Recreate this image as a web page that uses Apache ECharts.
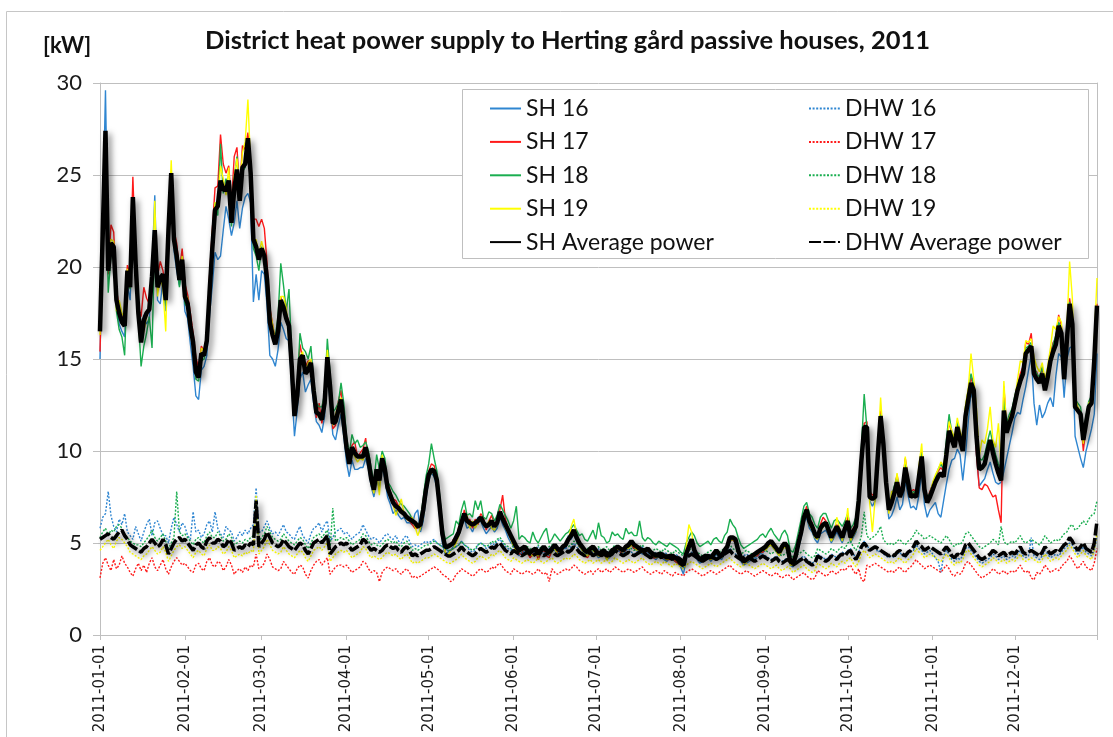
<!DOCTYPE html>
<html>
<head>
<meta charset="utf-8">
<script src="https://cdn.jsdelivr.net/npm/echarts@6/dist/echarts.min.js"></script>
<style>
  html, body { margin: 0; padding: 0; background: #fff; }
  #chart { width: 1113px; height: 737px; }
</style>
</head>
<body>
<div id="chart"></div>
<script>
// Daily district heat power [kW], 2011-01-01 .. 2011-12-31 (one row per month)
const YEAR = 2011;
const DAY_COUNT = 365;
const Y_MAX = 30;
const Y_STEP = 5;

const SH_AVG = [
  16.5,21.8,27.4,19.8,21.3,21.1,18.2,17.5,17.0,16.8,19.8,18.9,23.8,20.2,17.5,15.9,17.1,17.5,17.7,19.5,22.0,18.9,19.4,19.6,18.2,22.0,25.1,21.5,20.6,19.3,20.4,
  18.4,18.0,16.8,15.9,14.3,14.0,15.3,15.2,16.0,18.6,21.0,23.1,23.3,24.7,24.2,24.2,24.7,22.4,24.2,25.3,23.6,25.4,25.6,27.0,25.1,21.5,21.1,20.4,
  21.0,20.6,19.3,17.0,16.3,15.8,16.5,18.2,17.8,17.2,16.8,14.6,11.9,13.0,15.0,15.2,14.2,14.4,14.8,13.3,12.1,12.0,11.7,12.6,15.1,13.5,11.5,11.6,12.2,12.8,11.5,
  10.2,9.3,10.2,9.9,9.7,9.7,9.7,10.2,9.5,8.5,7.9,9.0,8.4,9.6,9.0,8.0,7.6,7.2,7.0,6.9,6.7,6.6,6.4,6.3,6.2,6.1,5.9,6.0,6.8,7.9,
  8.7,9.0,8.9,8.4,7.0,5.5,4.8,4.8,4.9,5.0,5.3,5.6,6.1,6.6,6.2,6.1,6.0,6.1,6.2,6.4,6.1,5.9,6.0,6.2,5.9,6.1,6.7,6.3,6.0,5.7,5.4,
  5.1,4.8,4.6,4.7,4.8,4.6,4.5,4.6,4.7,4.4,4.6,4.8,4.6,4.5,4.7,4.9,4.7,4.6,4.8,4.9,5.2,5.4,5.7,5.3,5.0,4.8,4.6,4.5,4.7,4.8,
  4.6,4.4,4.5,4.6,4.3,4.4,4.6,4.7,4.8,4.7,4.6,4.8,4.9,5.1,4.9,4.8,4.7,4.6,4.6,4.7,4.5,4.4,4.3,4.4,4.4,4.3,4.2,4.3,4.3,4.2,4.1,
  3.9,3.8,4.4,4.8,5.2,4.6,4.3,4.1,4.2,4.3,4.3,4.2,4.4,4.6,4.4,4.3,4.6,4.8,5.3,5.3,5.2,4.6,4.2,4.0,4.1,4.2,4.3,4.4,4.5,4.6,4.7,
  4.8,5.0,5.1,4.9,4.7,4.5,4.8,5.0,4.8,4.0,3.9,4.3,5.0,5.6,6.4,6.8,6.2,5.9,5.5,5.3,5.8,6.0,6.1,5.7,5.3,5.6,5.9,5.6,5.3,5.8,
  6.2,5.3,5.6,5.9,7.3,9.5,11.3,11.3,7.5,7.4,7.5,9.8,11.9,10.4,8.3,6.8,7.2,7.7,8.3,7.5,7.9,9.1,8.3,7.5,7.6,7.5,8.6,9.7,7.9,7.2,7.5,
  7.9,8.3,8.6,8.8,8.6,9.8,11.1,10.6,10.2,11.3,10.6,10.0,11.9,12.8,13.7,13.3,10.8,9.0,9.1,9.3,10.0,10.6,9.9,9.3,8.8,8.4,12.2,11.0,11.5,11.9,
  12.6,13.3,13.8,14.2,15.3,15.5,15.7,14.2,13.9,13.7,14.2,13.3,14.0,14.9,15.4,15.8,16.8,16.4,13.9,16.0,18.0,16.9,12.4,12.2,12.0,10.6,11.5,12.4,12.6,14.9,17.9
];

const SH16 = [
  15.0,22.5,29.6,20.4,21.0,20.6,17.8,16.9,16.5,16.2,19.0,18.2,22.6,20.0,17.1,16.3,17.4,16.9,17.2,19.9,23.9,18.2,18.0,19.3,17.6,21.3,24.6,20.9,19.8,19.0,19.9,
  17.6,17.2,15.8,14.6,13.0,12.8,14.4,14.6,15.2,17.4,19.0,20.8,20.4,20.6,22.0,23.3,22.6,21.7,22.4,23.6,22.1,23.2,23.8,24.0,23.5,18.1,19.6,18.2,
  19.8,19.6,17.9,15.2,15.0,14.6,15.5,17.0,16.6,16.1,16.0,13.5,10.8,12.2,13.9,14.3,13.2,13.6,13.9,12.6,11.6,11.4,11.0,11.9,14.3,12.7,10.9,10.6,11.4,12.0,10.8,
  9.4,8.6,9.5,9.0,9.0,9.1,9.1,9.6,9.0,8.1,7.5,8.4,8.0,9.1,8.5,7.5,7.1,6.6,6.8,6.5,6.3,6.4,6.1,6.1,6.0,6.6,6.8,5.6,6.2,7.4,
  8.4,8.8,8.6,8.0,6.4,5.0,4.4,4.5,4.6,4.8,5.1,5.4,5.9,6.3,5.8,5.9,5.6,6.0,6.4,6.2,5.8,5.5,5.7,5.9,5.6,5.8,6.4,6.0,5.7,5.3,5.0,
  4.9,4.6,4.3,4.5,4.6,4.4,4.3,4.5,4.6,4.2,4.4,4.6,4.5,4.3,4.5,4.8,4.6,4.4,4.7,4.7,5.4,5.2,5.5,5.1,4.8,4.6,4.5,4.3,4.6,4.6,
  4.4,4.2,4.3,4.5,4.1,4.2,4.5,4.5,4.6,4.6,4.4,4.6,4.8,4.9,4.7,4.6,4.5,4.4,4.4,4.5,4.3,4.2,4.1,4.3,4.2,4.1,4.0,4.2,4.1,4.0,3.9,
  3.7,3.3,4.1,4.6,5.0,4.4,4.1,3.9,4.0,4.1,4.2,4.0,4.2,4.4,4.2,4.1,4.4,4.6,5.1,5.2,5.0,4.4,4.0,3.8,3.9,4.0,4.1,4.2,4.3,4.4,4.5,
  4.6,4.8,4.9,4.7,4.5,4.3,4.6,4.8,4.6,3.8,3.7,4.1,4.7,5.3,6.1,6.4,5.8,5.6,5.2,5.0,5.5,5.6,5.7,5.4,5.0,5.3,5.6,5.3,5.0,5.5,
  5.9,5.0,5.3,5.6,6.9,9.0,10.8,10.9,7.3,7.0,7.3,9.4,11.5,10.0,7.9,6.3,6.5,6.9,7.5,6.8,7.1,8.4,7.6,6.9,7.0,6.8,7.6,8.8,7.1,6.4,6.8,
  7.0,7.2,6.6,6.4,7.3,8.2,9.0,9.5,9.6,10.1,9.8,8.4,9.8,11.6,13.2,12.6,9.8,8.1,8.3,8.5,9.0,9.4,8.8,8.3,8.2,8.3,8.9,9.6,10.3,11.0,
  11.8,12.1,12.0,12.8,13.5,14.4,15.2,12.6,11.4,12.5,11.8,12.1,12.6,12.9,12.4,14.1,15.3,15.1,12.9,15.0,15.6,15.7,10.8,10.2,9.6,9.1,10.0,10.6,11.2,12.0,15.3
];

const SH17 = [
  15.4,21.0,26.8,19.6,22.3,21.9,18.8,17.8,17.3,17.2,20.1,19.5,24.9,20.6,17.9,17.3,18.9,18.3,18.0,19.2,21.6,19.5,20.3,19.8,18.6,22.4,24.9,22.0,21.3,19.8,21.0,
  19.1,18.5,17.5,16.4,15.1,14.5,15.7,15.4,16.4,19.5,22.0,24.3,24.4,27.2,25.6,25.1,25.5,23.4,26.0,26.5,24.1,26.6,26.4,27.3,25.7,22.6,22.6,22.2,
  22.6,22.1,20.2,17.8,16.9,16.0,16.7,18.4,17.6,17.5,17.0,14.4,12.2,13.6,15.8,15.0,14.6,14.9,14.9,13.1,11.8,12.6,11.5,12.4,15.0,13.2,11.2,11.4,12.7,13.3,11.4,
  10.4,9.6,10.3,10.5,9.7,9.9,10.1,10.7,9.3,8.6,8.1,8.9,8.5,9.4,9.1,8.3,7.8,7.4,7.3,7.0,6.7,6.5,6.3,6.2,6.0,5.8,5.8,6.1,7.3,8.3,
  8.9,9.3,9.2,8.6,7.2,5.6,4.6,4.9,4.8,5.2,5.1,5.9,6.0,6.8,6.1,6.3,5.8,6.3,6.0,6.6,6.4,5.7,6.2,6.5,6.0,6.2,6.8,7.6,6.3,5.8,5.3,
  5.0,4.7,4.4,4.4,4.7,4.5,4.2,4.4,4.6,4.1,4.5,4.6,4.3,4.2,4.6,4.7,4.5,4.4,4.9,4.8,5.1,5.5,5.6,5.2,4.8,4.7,4.3,4.2,4.5,4.6,
  4.5,4.3,4.4,4.4,4.2,4.3,4.4,4.6,4.6,4.5,4.5,4.6,4.8,4.9,4.7,4.7,4.5,4.5,4.4,4.6,4.4,4.2,4.2,4.3,4.2,4.2,4.1,4.1,4.2,4.0,3.9,
  3.8,3.7,4.3,4.7,5.0,4.5,4.2,4.0,4.1,4.2,4.2,4.1,4.3,4.5,4.3,4.2,4.5,4.7,5.1,5.2,5.0,4.5,4.1,3.9,4.0,4.1,4.2,4.3,4.3,4.5,4.5,
  4.7,4.9,5.0,4.8,4.6,4.4,4.7,4.9,4.7,3.9,3.8,4.2,4.9,5.7,6.5,7.0,6.3,6.1,5.6,5.3,6.0,6.4,6.2,5.8,5.4,5.7,6.0,5.6,5.4,5.9,
  6.4,5.5,5.8,6.1,7.5,9.8,11.5,11.6,7.8,7.6,7.7,10.2,12.2,10.6,8.6,7.0,7.4,8.0,8.7,7.9,8.2,9.6,8.6,7.8,7.9,7.8,8.9,10.0,8.2,7.4,7.8,
  8.2,8.5,8.9,9.1,8.9,10.3,11.6,10.9,10.6,11.6,10.8,10.4,12.3,13.2,14.0,13.4,9.8,8.0,7.9,8.2,8.1,7.8,7.5,7.6,6.8,6.1,13.5,11.3,11.8,12.2,
  12.9,13.6,14.2,14.6,15.9,15.8,16.4,14.4,14.3,13.8,14.5,13.6,14.3,15.3,15.9,16.1,17.4,16.8,14.2,16.3,18.3,17.3,12.5,12.2,11.9,10.0,11.3,12.5,12.8,15.2,18.0
];

const SH18 = [
  16.8,21.5,26.5,18.6,20.6,20.8,17.6,16.6,16.2,15.2,19.6,18.8,23.5,19.7,17.2,14.6,15.7,16.4,17.3,15.6,21.6,19.0,19.2,19.5,17.9,21.8,24.6,21.2,20.2,18.9,20.2,
  18.0,17.8,16.4,15.6,13.9,13.8,14.9,15.0,15.8,18.9,21.4,23.5,22.8,26.7,24.0,24.8,24.4,22.2,24.8,26.0,23.8,25.2,25.4,26.5,24.6,21.0,20.6,19.8,
  21.1,20.5,19.4,17.4,16.5,16.2,17.3,20.2,19.0,17.6,18.8,15.2,12.4,13.4,16.4,15.6,15.4,15.0,15.7,13.8,12.6,12.4,12.4,13.1,16.1,14.2,12.1,12.3,12.6,13.7,12.6,
  10.8,9.8,10.9,10.4,10.6,10.2,10.3,10.5,10.0,9.1,8.3,9.8,9.0,10.0,9.6,8.3,8.1,7.8,7.6,7.3,7.1,7.0,6.8,6.6,6.3,6.1,5.8,6.3,7.4,8.6,
  9.3,10.4,9.6,8.9,7.6,6.0,5.2,5.3,5.4,5.5,6.2,6.0,6.8,7.3,6.5,6.6,6.4,7.3,6.8,7.3,6.4,6.3,6.7,6.6,6.2,6.5,7.1,6.8,6.5,6.2,5.8,
  6.2,7.0,5.2,5.4,5.3,5.1,5.0,5.6,5.2,5.0,5.3,5.6,5.8,5.0,5.2,5.5,5.3,5.1,5.3,5.5,5.6,5.8,6.0,5.7,5.4,5.5,5.2,5.1,5.4,5.7,
  5.2,6.1,5.4,5.3,5.0,5.1,5.6,5.4,5.5,5.3,5.2,5.8,5.5,5.6,5.4,5.4,6.2,5.3,5.1,5.3,5.2,5.0,4.9,5.1,5.0,4.9,4.8,5.0,4.9,4.8,4.7,
  4.5,4.4,5.0,5.3,5.6,5.4,5.0,4.8,4.9,5.0,5.1,4.9,5.2,5.3,5.1,5.0,5.4,5.6,6.3,6.0,5.8,5.3,4.9,4.7,4.8,4.9,5.0,5.1,5.2,5.4,5.5,
  5.3,5.6,5.8,5.5,5.3,5.1,5.5,5.7,5.4,4.6,4.5,4.9,5.6,6.3,7.0,7.2,6.6,6.4,6.0,5.8,6.4,6.6,6.6,6.2,5.8,6.2,6.3,6.1,5.9,6.2,
  6.6,5.8,6.0,6.4,7.8,10.2,13.1,11.2,7.6,7.5,7.6,10.0,12.0,10.5,8.5,7.2,7.5,8.1,8.6,7.7,8.1,9.3,8.5,7.7,7.8,7.7,8.8,9.9,8.1,7.5,7.7,
  8.2,8.6,9.0,9.3,9.0,10.6,12.0,11.0,10.5,11.6,10.9,10.3,12.4,13.3,14.2,13.6,11.5,9.6,9.5,9.8,10.5,11.1,10.4,9.8,9.3,8.9,12.8,11.5,12.0,12.3,
  13.0,13.6,14.0,14.5,15.6,15.7,15.9,14.6,14.2,14.0,14.6,13.6,14.3,15.1,15.8,16.3,17.0,16.7,14.1,16.2,18.1,17.0,12.8,12.6,12.4,11.1,11.9,12.7,13.0,15.1,17.8
];

const SH19 = [
  16.3,22.3,27.2,20.2,21.5,21.4,17.6,18.2,17.5,17.2,19.9,18.9,23.5,20.0,17.3,16.0,16.5,17.3,17.9,19.0,23.6,18.4,19.5,18.8,16.5,22.1,25.8,21.8,20.8,19.6,20.6,
  18.6,18.3,17.0,16.2,14.6,14.2,15.6,15.4,16.3,19.0,21.8,23.5,23.5,25.5,24.8,23.9,25.4,22.8,24.9,25.9,24.3,26.2,26.8,29.1,25.5,21.4,21.5,20.6,
  21.4,20.8,19.6,17.6,16.9,16.0,16.7,18.4,18.4,17.8,16.0,14.9,12.1,13.0,15.1,15.4,14.3,14.8,15.0,13.6,12.2,11.8,12.0,13.0,15.5,13.9,11.4,12.0,12.5,12.9,11.0,
  10.1,9.3,10.0,9.7,9.4,9.6,9.5,10.0,9.6,8.2,7.7,9.0,7.6,9.8,9.0,7.9,7.5,7.1,6.5,6.9,7.4,6.6,6.3,6.2,6.4,5.9,5.4,5.8,6.4,7.6,
  8.6,8.8,9.0,8.5,7.4,5.4,4.5,4.3,4.6,4.7,5.0,5.4,6.0,6.4,6.5,5.8,6.2,5.8,6.1,6.3,6.0,5.9,6.2,5.8,5.7,6.0,6.5,6.4,5.8,5.6,5.2,
  4.8,4.6,4.5,4.6,4.7,4.4,4.4,4.3,4.4,4.3,4.6,4.7,4.5,4.4,4.5,4.7,4.4,4.5,4.7,4.9,5.1,5.9,6.3,5.4,4.9,4.6,4.4,4.3,4.5,4.6,
  4.4,4.3,4.3,4.5,4.1,4.3,4.5,4.6,4.7,4.6,4.5,4.7,4.7,4.9,4.8,4.6,4.6,4.5,4.5,4.6,4.4,4.3,4.2,4.3,4.3,4.2,4.1,4.2,4.2,4.1,4.0,
  3.8,3.7,4.8,6.0,5.6,4.5,4.2,4.0,4.1,4.2,4.2,4.1,4.3,4.5,4.3,4.2,4.5,4.7,5.1,5.2,5.1,4.5,4.1,3.9,4.0,4.1,4.2,4.3,4.4,4.5,4.6,
  4.6,4.8,4.9,4.7,4.5,4.3,4.6,4.8,4.6,3.8,3.8,4.1,4.8,5.4,6.2,6.7,6.0,5.7,5.3,5.2,5.6,5.9,6.0,5.5,5.1,5.4,6.4,5.8,5.1,5.7,
  6.9,5.1,5.4,5.7,7.0,9.4,11.0,11.1,7.2,5.6,7.4,10.2,12.9,10.6,8.1,6.6,7.8,7.8,8.8,7.6,8.0,9.7,8.4,7.6,7.7,7.6,9.2,10.4,8.1,7.3,7.6,
  8.3,8.7,9.0,9.4,9.2,10.2,11.6,11.1,10.7,11.8,11.1,10.6,12.5,13.4,15.3,13.9,12.3,9.7,10.6,10.4,11.2,12.4,10.6,10.2,11.5,9.1,13.8,11.2,11.8,12.1,
  12.8,13.9,14.9,14.8,16.0,15.9,16.1,15.1,14.6,14.3,14.8,13.9,14.6,15.6,16.8,16.6,17.3,17.0,14.4,16.6,20.3,18.3,12.9,12.4,12.1,10.4,11.6,12.6,12.8,15.9,19.4
];

const DHW_AVG = [
  5.2,5.3,5.4,5.5,5.3,5.2,5.4,5.6,5.7,5.4,5.2,4.9,4.8,4.7,4.6,4.5,4.7,4.8,5.0,5.2,5.0,4.8,4.9,5.2,4.9,4.4,4.7,5.0,5.2,5.3,5.1,
  5.2,5.0,4.8,4.6,4.9,5.0,4.8,4.7,5.1,5.3,5.0,5.0,5.2,5.1,4.8,4.9,5.2,5.0,4.6,4.7,4.8,4.7,4.9,4.8,5.0,4.9,7.3,4.8,
  5.0,5.2,5.6,5.3,5.0,4.9,4.8,4.9,5.2,5.0,4.8,4.7,4.6,4.8,5.0,4.9,4.6,4.4,4.7,5.0,5.1,5.2,5.0,5.2,5.4,4.4,4.6,4.8,4.9,5.0,4.9,
  5.0,4.8,4.6,4.7,4.8,4.9,5.2,5.1,4.8,4.6,4.7,4.6,4.5,4.6,4.8,4.9,4.8,4.7,4.8,4.6,4.5,4.7,4.8,4.6,4.3,4.4,4.3,4.4,4.5,4.6,
  4.6,4.7,4.8,4.7,4.6,4.5,4.4,4.3,4.3,4.4,4.5,4.6,4.8,4.6,4.5,4.4,4.3,4.4,4.6,4.7,4.6,4.5,4.6,4.8,4.7,4.9,5.0,4.8,4.6,4.5,4.4,
  4.6,4.5,4.4,4.3,4.4,4.5,4.4,4.3,4.4,4.6,4.4,4.3,4.4,4.5,4.6,4.4,4.3,4.4,4.5,4.6,4.5,4.6,4.8,4.7,4.5,4.4,4.3,4.4,4.5,4.3,
  4.4,4.5,4.3,4.4,4.5,4.3,4.4,4.6,4.5,4.4,4.3,4.4,4.5,4.4,4.3,4.4,4.5,4.6,4.4,4.3,4.2,4.3,4.4,4.3,4.2,4.4,4.3,4.2,4.1,4.3,4.2,
  4.1,4.0,4.2,4.3,4.4,4.3,4.2,4.1,4.0,4.1,4.2,4.3,4.2,4.1,4.2,4.3,4.4,4.5,4.6,4.4,4.3,4.2,4.1,4.2,4.3,4.2,4.1,4.0,4.1,4.2,4.3,
  4.2,4.1,4.0,4.1,4.2,4.0,3.9,4.0,4.1,4.0,3.8,3.9,4.0,4.1,4.2,4.0,3.9,3.8,3.9,4.3,4.2,4.1,4.0,4.1,4.3,4.2,4.1,4.3,4.4,4.3,
  4.5,4.6,4.3,4.1,4.4,4.8,5.0,4.8,4.6,4.7,4.8,4.7,4.6,4.5,4.4,4.3,4.4,4.3,4.5,4.6,4.4,4.3,4.5,4.6,4.8,5.1,4.9,4.8,4.6,4.7,4.8,
  4.7,4.6,4.5,4.4,4.6,4.8,4.6,4.3,4.2,4.4,4.3,4.5,4.9,5.0,4.8,4.6,4.4,4.2,4.1,4.2,4.3,4.4,4.6,4.5,4.3,4.4,4.5,4.3,4.4,4.5,
  4.4,4.6,4.8,4.5,4.4,4.5,4.6,4.5,4.4,4.3,4.5,4.8,4.6,4.4,4.5,4.6,4.5,4.7,4.9,5.0,5.3,5.1,4.8,4.6,4.8,5.0,4.7,4.6,4.5,5.0,6.2
];

const DHW16 = [
  5.8,6.4,6.6,7.8,6.5,5.9,5.6,6.3,6.0,6.6,5.6,5.4,5.2,5.9,5.5,5.1,5.6,6.0,6.3,5.4,6.1,6.2,5.8,5.4,5.4,5.0,5.8,6.4,6.0,5.6,6.1,
  5.9,5.4,5.2,6.7,5.6,5.7,5.3,5.5,6.0,6.2,5.6,6.7,5.8,5.5,5.3,5.9,5.7,5.6,5.1,5.3,5.6,5.4,5.7,5.5,5.8,6.0,8.0,5.6,
  5.6,5.9,6.2,5.8,5.5,5.6,5.4,5.7,6.0,5.6,5.5,5.3,5.2,5.6,5.9,5.4,5.2,5.0,5.5,5.8,5.9,6.1,5.6,6.0,6.2,5.1,5.3,5.6,5.7,5.8,5.5,
  5.6,5.4,5.2,5.4,5.5,5.6,6.0,5.7,5.4,5.2,5.3,5.2,5.0,5.2,5.4,5.5,5.3,5.2,5.4,5.1,5.0,5.3,5.4,5.1,4.8,4.9,4.8,4.9,5.0,5.1,
  5.0,5.1,5.2,5.0,4.9,4.8,4.7,4.6,4.6,4.7,4.8,4.9,5.1,4.9,4.8,4.6,4.5,4.6,4.9,5.0,4.9,4.7,4.8,5.0,4.9,5.1,5.2,5.0,4.8,4.7,4.6,
  4.8,4.7,4.6,4.4,4.6,4.7,4.5,4.4,4.6,4.8,4.5,4.4,4.6,4.7,4.8,4.5,4.4,4.6,4.7,4.8,4.6,4.8,5.0,4.8,4.6,4.5,4.4,4.6,4.7,4.4,
  4.5,4.7,4.4,4.5,4.6,4.4,4.5,4.8,4.6,4.5,4.4,4.6,4.7,4.5,4.4,4.5,4.7,4.8,4.5,4.4,4.3,4.4,4.5,4.4,4.3,4.5,4.4,4.3,4.2,4.4,4.3,
  4.2,3.6,4.3,4.4,4.5,4.4,4.3,4.2,4.1,4.2,4.3,4.4,4.3,4.2,4.3,4.4,4.5,4.6,4.7,4.5,4.4,4.3,4.2,4.3,4.4,4.3,4.2,4.1,4.2,4.3,4.4,
  4.3,4.2,4.1,4.2,4.3,4.1,4.0,4.1,4.2,4.1,3.9,4.0,4.1,4.2,4.3,4.1,4.0,3.9,4.0,4.4,4.3,4.2,4.1,4.2,4.4,4.3,4.2,4.4,4.5,4.4,
  4.6,4.7,4.4,4.2,4.5,4.9,5.1,4.9,4.6,4.7,4.8,4.5,4.6,4.4,4.3,4.2,4.3,4.2,4.4,4.5,4.3,4.2,4.4,4.5,4.6,4.9,4.7,4.6,4.4,4.5,4.6,
  4.4,4.2,4.0,3.4,4.3,4.6,4.4,4.1,4.0,4.2,4.1,4.3,4.7,4.8,4.6,4.4,4.2,4.0,3.9,4.0,4.1,4.2,4.4,4.3,4.1,4.2,4.3,4.1,4.2,4.3,
  4.2,4.4,4.6,4.3,4.2,4.3,5.3,4.3,4.2,4.1,4.3,4.6,4.4,4.2,4.3,4.4,4.3,4.5,4.7,4.8,5.0,4.9,4.6,4.4,4.6,4.8,4.5,4.4,4.3,4.6,5.4
];

const DHW17 = [
  3.1,3.9,4.2,3.8,3.5,4.1,3.6,3.8,4.3,3.9,3.7,3.4,3.2,3.6,3.9,3.5,3.8,3.4,3.9,4.2,3.7,3.5,3.8,4.1,3.6,3.3,3.7,4.0,4.2,4.0,3.8,
  3.9,3.7,3.5,3.4,3.8,3.9,3.6,3.5,4.0,4.2,3.8,3.7,4.0,3.9,3.5,3.7,4.1,3.8,3.3,3.5,3.6,3.4,3.7,3.5,3.8,3.7,4.4,3.6,
  3.7,3.9,4.4,4.1,3.7,3.6,3.5,3.6,4.0,3.8,3.6,3.4,3.3,3.6,3.8,3.7,3.3,3.1,3.5,3.8,4.0,4.1,3.8,4.0,4.2,3.3,3.5,3.7,3.8,3.8,3.7,
  3.8,3.6,3.4,3.5,3.6,3.7,4.0,3.9,3.6,3.4,3.5,3.4,2.9,3.4,3.6,3.7,3.6,3.5,3.6,3.4,3.3,3.5,3.6,3.4,3.1,3.2,3.1,3.2,3.3,3.4,
  3.5,3.6,3.7,3.6,3.5,3.3,3.2,3.1,2.9,3.0,3.3,3.4,3.6,3.5,3.4,3.3,3.2,3.3,3.5,3.6,3.5,3.4,3.5,3.7,3.6,3.8,3.9,3.7,3.5,3.4,3.3,
  3.6,3.5,3.4,3.3,3.4,3.5,3.4,3.3,3.4,3.6,3.4,3.3,3.4,2.9,3.6,3.4,3.3,3.4,3.5,3.6,3.5,3.6,3.8,3.7,3.5,3.4,3.3,3.4,3.5,3.3,
  3.5,3.6,3.4,3.5,3.6,3.4,3.5,3.7,3.6,3.5,3.4,3.5,3.6,3.5,3.4,3.5,3.6,3.7,3.5,3.4,3.3,3.4,3.5,3.4,3.3,3.5,3.4,3.3,3.2,3.4,3.3,
  3.3,3.2,3.4,3.5,3.6,3.5,3.4,3.3,3.2,3.3,3.4,3.5,3.4,3.3,3.4,3.5,3.6,3.7,3.8,3.6,3.5,3.4,3.3,3.4,3.5,3.4,3.3,3.2,3.3,3.4,3.5,
  3.4,3.3,3.2,3.3,3.4,3.2,3.1,3.2,3.3,3.2,3.0,3.1,3.2,3.3,3.4,3.2,3.1,3.0,3.1,3.5,3.4,3.3,3.2,3.3,3.5,3.4,3.3,3.5,3.6,3.5,
  3.7,3.8,3.5,3.3,3.6,3.0,2.9,3.8,3.7,3.8,3.9,3.8,3.7,3.6,3.5,3.4,3.5,3.4,3.6,3.7,3.5,3.4,3.6,3.7,3.9,4.1,3.9,3.8,3.6,3.7,3.8,
  3.7,3.6,3.5,3.4,3.6,3.8,3.6,3.3,3.2,3.4,3.3,3.5,3.9,4.0,3.8,3.6,3.4,3.2,3.1,3.2,3.3,3.4,3.6,3.5,3.3,3.4,3.5,3.3,3.4,3.5,
  3.4,3.6,3.8,3.5,3.4,3.5,3.1,3.0,3.4,3.3,3.5,3.8,3.6,3.4,3.5,3.6,3.5,3.7,3.9,4.0,4.3,4.1,3.8,3.6,3.8,4.0,3.7,3.6,3.5,3.9,4.7
];

const DHW18 = [
  5.3,5.6,5.8,5.4,5.7,5.6,5.9,6.0,5.8,5.5,5.3,5.1,5.0,4.9,4.9,4.8,5.0,5.2,5.4,5.7,5.3,5.1,5.3,5.5,5.1,4.7,5.0,5.3,7.8,5.6,5.4,
  5.5,5.3,5.1,4.9,5.2,5.3,5.1,5.0,5.4,5.6,5.3,5.3,5.6,5.4,5.1,5.2,5.5,5.3,4.9,5.0,5.1,5.0,5.2,5.1,5.3,5.4,6.6,5.1,
  5.3,5.5,5.9,5.6,5.3,5.2,5.1,5.2,5.5,5.3,5.1,5.0,4.9,5.1,5.3,5.2,4.9,4.7,5.0,5.3,5.4,5.5,5.3,5.5,5.7,4.7,6.9,5.1,5.2,5.3,5.2,
  5.3,5.1,4.9,5.0,5.1,5.2,5.5,5.4,5.1,4.9,5.0,4.9,4.8,4.9,5.1,5.2,5.1,5.0,5.1,4.9,4.8,5.0,5.1,4.9,4.6,4.7,4.6,4.7,4.8,4.9,
  4.9,5.0,5.1,5.0,4.9,4.8,4.7,4.6,4.6,4.7,4.8,4.9,5.1,4.9,4.8,4.7,4.6,4.7,4.9,5.0,4.9,4.8,4.9,5.1,5.0,5.2,5.3,5.1,4.9,4.8,4.7,
  4.9,4.8,4.7,4.6,4.7,4.8,4.7,4.6,4.7,4.9,4.7,4.6,4.7,4.8,4.9,4.7,4.6,4.7,4.8,4.9,4.8,4.9,5.1,5.0,4.8,4.7,4.6,4.7,4.8,4.6,
  4.7,4.8,4.6,4.7,4.8,4.6,4.7,4.9,4.8,4.7,4.6,4.7,4.8,4.7,4.6,4.7,4.8,4.9,4.7,4.6,4.5,4.6,4.7,4.6,4.5,4.7,4.6,4.5,4.4,4.6,4.5,
  4.4,4.3,4.5,4.6,4.7,4.6,4.5,4.4,4.3,4.4,4.5,4.6,4.5,4.4,4.5,4.6,4.7,4.8,4.9,4.7,4.6,4.5,4.4,4.5,4.6,4.5,4.4,4.3,4.4,4.5,4.6,
  4.6,4.5,4.4,4.5,4.6,4.4,4.3,4.4,4.5,4.4,4.2,4.3,4.4,4.5,4.6,4.4,4.3,4.2,4.3,4.7,4.6,4.5,4.4,4.5,4.7,4.6,4.5,4.7,4.8,4.7,
  5.0,5.1,4.8,4.6,4.9,5.4,6.7,5.4,5.2,5.3,5.4,5.6,5.9,5.2,5.0,4.9,5.0,4.9,5.1,5.2,5.0,4.9,5.1,5.2,5.4,5.7,5.5,5.4,5.2,5.3,5.4,
  5.3,5.2,5.1,5.0,5.2,5.4,5.2,4.9,4.8,5.0,4.9,5.1,5.5,5.6,5.4,5.2,5.0,4.8,4.7,4.8,4.9,5.0,5.2,5.1,4.9,5.9,5.1,4.9,5.0,5.1,
  5.0,5.2,5.4,5.1,5.0,5.1,5.2,5.1,5.0,4.9,5.1,5.4,5.2,5.0,5.1,5.2,5.1,5.3,5.5,5.6,5.9,6.0,5.7,5.8,6.0,6.2,6.0,6.3,6.5,6.6,7.3
];

const DHW19 = [
  4.6,4.8,5.0,5.2,4.9,4.7,5.1,5.3,5.2,5.0,4.8,4.5,4.4,4.3,4.2,4.1,4.3,4.4,4.6,4.8,4.6,4.4,4.5,4.8,4.5,4.0,4.3,4.6,4.8,4.9,4.7,
  4.8,4.6,4.4,4.2,4.5,4.6,4.4,4.3,4.7,4.9,4.6,4.6,4.8,4.7,4.4,4.5,4.8,4.6,4.2,4.3,4.4,4.3,4.5,4.4,4.6,4.5,7.6,4.4,
  4.6,4.8,5.2,4.9,4.6,4.5,4.4,4.5,4.8,4.6,4.4,4.3,4.2,4.4,4.6,4.5,4.2,4.0,4.3,4.6,4.7,4.8,4.6,4.8,5.0,4.0,4.2,4.4,4.5,4.6,4.5,
  4.6,4.4,4.2,4.3,4.4,4.5,4.8,4.7,4.4,4.2,4.3,4.2,4.1,4.2,4.4,4.5,4.4,4.3,4.4,4.2,4.1,4.3,4.4,4.2,3.9,4.0,3.9,4.0,4.1,4.2,
  4.2,4.3,4.4,4.3,4.2,4.1,4.0,3.9,3.9,4.0,4.1,4.2,4.4,4.2,4.1,4.0,3.9,4.0,4.2,4.3,4.2,4.1,4.2,4.4,4.3,4.5,4.6,4.4,4.2,4.1,4.0,
  4.2,4.1,4.0,3.9,4.0,4.1,4.0,3.9,4.0,4.2,4.0,3.9,4.0,4.1,4.2,4.0,3.9,4.0,4.1,4.2,4.1,4.2,4.4,4.3,4.1,4.0,3.9,4.0,4.1,3.9,
  4.0,4.1,3.9,4.0,4.1,3.9,4.0,4.2,4.1,4.0,3.9,4.0,4.1,4.0,3.9,4.0,4.1,4.2,4.0,3.9,3.8,3.9,4.0,3.9,3.8,4.0,3.9,3.8,3.7,3.9,3.8,
  3.7,3.6,3.8,3.9,4.0,3.9,3.8,3.7,3.6,3.7,3.8,3.9,3.8,3.7,3.8,3.9,4.0,4.1,4.2,4.0,3.9,3.8,3.7,3.8,3.9,3.8,3.7,3.6,3.7,3.8,3.9,
  3.8,3.7,3.6,3.7,3.8,3.6,3.5,3.6,3.7,3.6,3.4,3.5,3.6,3.7,3.8,3.6,3.5,3.4,3.5,3.9,3.8,3.7,3.6,3.7,3.9,3.8,3.7,3.9,4.0,3.9,
  4.1,4.2,3.9,3.7,4.0,4.4,4.6,4.4,4.2,4.3,4.4,4.3,4.2,4.1,4.0,3.9,4.0,3.9,4.1,4.2,4.0,3.9,4.1,4.2,4.4,4.7,4.5,4.4,4.2,4.3,4.4,
  4.3,4.2,4.1,4.0,4.2,4.4,4.2,3.9,3.8,4.0,3.9,4.1,4.5,4.6,4.4,4.2,4.0,3.8,3.7,3.8,3.9,4.0,4.2,4.1,3.9,4.0,4.1,3.9,4.0,4.1,
  4.0,4.2,4.4,4.1,4.0,4.1,4.2,4.1,4.0,3.9,4.1,4.4,4.2,4.0,4.1,4.2,4.1,4.3,4.5,4.6,4.9,4.7,4.4,4.2,4.4,4.6,4.3,4.2,4.1,4.6,5.5
];

// Every series must cover the whole year
[['SH16', SH16], ['SH17', SH17], ['SH18', SH18], ['SH19', SH19], ['SH_AVG', SH_AVG],
 ['DHW16', DHW16], ['DHW17', DHW17], ['DHW18', DHW18], ['DHW19', DHW19], ['DHW_AVG', DHW_AVG]]
  .forEach(([n, a]) => { if (a.length !== DAY_COUNT) throw new Error(n + ' has ' + a.length + ' values'); });

// Category labels: one ISO date per day of the year
const DAYS = [];
for (let i = 0; i < DAY_COUNT; i++) {
  DAYS.push(new Date(Date.UTC(YEAR, 0, 1 + i)).toISOString().slice(0, 10));
}
const isMonthStart = (v) => v.slice(8) === '01';

const FONT = 'Lato, "Open Sans", sans-serif';
const GRID_GRAY = '#bfbfbf';

const COLORS = { 16: '#2f86d1', 17: '#ff1a1a', 18: '#1aae50', 19: '#ffff00' };

function shSeries(name, data, color) {
  return {
    name, type: 'line', data, symbol: 'none', z: 2,
    lineStyle: { color, width: 1.4 }, itemStyle: { color }
  };
}
function dhwSeries(name, data, color) {
  return {
    name, type: 'line', data, symbol: 'none', z: 2,
    lineStyle: { color, width: 1.4, type: [2, 1.6] }, itemStyle: { color }
  };
}
const blackShadow = { shadowColor: 'rgba(0,0,0,0.5)', shadowBlur: 6, shadowOffsetX: 3, shadowOffsetY: 3 };

const legendCommon = {
  orient: 'vertical', top: 97, padding: 0, z: 20,
  itemGap: 10.4, itemWidth: 31, itemHeight: 14,
  itemStyle: { opacity: 0 },
  textStyle: { fontFamily: FONT, fontSize: 23, color: '#111' }
};

const chart = echarts.init(document.getElementById('chart'), null, { renderer: 'canvas' });

chart.setOption({
  animation: false,
  backgroundColor: '#fff',
  grid: { left: 100, right: 16, top: 83, bottom: 102, containLabel: false, outerBoundsMode: 'none' },
  xAxis: {
    type: 'category',
    data: DAYS,
    boundaryGap: false,
    axisLine: { show: true, lineStyle: { color: GRID_GRAY, width: 1 } },
    axisTick: {
      show: true, length: 5, lineStyle: { color: GRID_GRAY },
      interval: (idx, v) => isMonthStart(v) || idx === DAY_COUNT - 1
    },
    axisLabel: {
      interval: (idx, v) => isMonthStart(v),
      rotate: 90, margin: 10,
      fontFamily: '"DejaVu Sans", sans-serif', fontSize: 15, color: '#1a1a1a'
    },
    splitLine: { show: false }
  },
  yAxis: [{
    type: 'value', min: 0, max: Y_MAX, interval: Y_STEP,
    axisLine: { show: true, lineStyle: { color: GRID_GRAY } },
    axisTick: { show: true, length: 7, lineStyle: { color: GRID_GRAY } },
    axisLabel: { margin: 18, fontFamily: FONT, fontSize: 22, color: '#1a1a1a' },
    splitLine: { show: true, lineStyle: { color: GRID_GRAY, width: 1 } }
  }, {
    type: 'value', min: 0, max: Y_MAX, interval: Y_STEP, position: 'right',
    axisLine: { show: true, lineStyle: { color: GRID_GRAY } },
    axisTick: { show: false }, axisLabel: { show: false }, splitLine: { show: false }
  }],
  legend: [
    Object.assign({ data: ['SH 16', 'SH 17', 'SH 18', 'SH 19', 'SH Average power'], left: 489 }, legendCommon),
    Object.assign({ data: ['DHW 16', 'DHW 17', 'DHW 18', 'DHW 19', 'DHW Average power'], left: 808 }, legendCommon)
  ],
  graphic: [
    { type: 'rect', z: -10, silent: true,
      shape: { x: 6.5, y: 11.5, width: 1130, height: 760 },
      style: { fill: 'none', stroke: '#c6c6c6', lineWidth: 1 } },
    { type: 'rect', z: 10, silent: true,
      shape: { x: 462.5, y: 89.5, width: 626, height: 169 },
      style: { fill: '#fff', stroke: GRID_GRAY, lineWidth: 1 } },
    { type: 'text', z: 10, left: 205, top: 28,
      style: { text: 'District heat power supply to Herting gård passive houses, 2011',
               font: 'bold 25.5px ' + FONT, fill: '#111' } },
    { type: 'text', z: 10, left: 43, top: 35,
      style: { text: '[kW]', font: 'bold 22px ' + FONT, fill: '#111' } }
  ],
  series: [
    shSeries('SH 16', SH16, COLORS[16]),
    shSeries('SH 17', SH17, COLORS[17]),
    shSeries('SH 18', SH18, COLORS[18]),
    shSeries('SH 19', SH19, COLORS[19]),
    dhwSeries('DHW 16', DHW16, COLORS[16]),
    dhwSeries('DHW 17', DHW17, COLORS[17]),
    dhwSeries('DHW 18', DHW18, COLORS[18]),
    dhwSeries('DHW 19', DHW19, COLORS[19]),
    {
      name: 'SH Average power', type: 'line', data: SH_AVG, symbol: 'none', z: 3,
      lineStyle: Object.assign({ color: '#000', width: 4.5 }, blackShadow), itemStyle: { color: '#000' }
    },
    {
      name: 'DHW Average power', type: 'line', data: DHW_AVG, symbol: 'none', z: 3,
      lineStyle: Object.assign({ color: '#000', width: 3.5, type: [12, 2.5] }, blackShadow), itemStyle: { color: '#000' }
    }
  ]
});
</script>
</body>
</html>
